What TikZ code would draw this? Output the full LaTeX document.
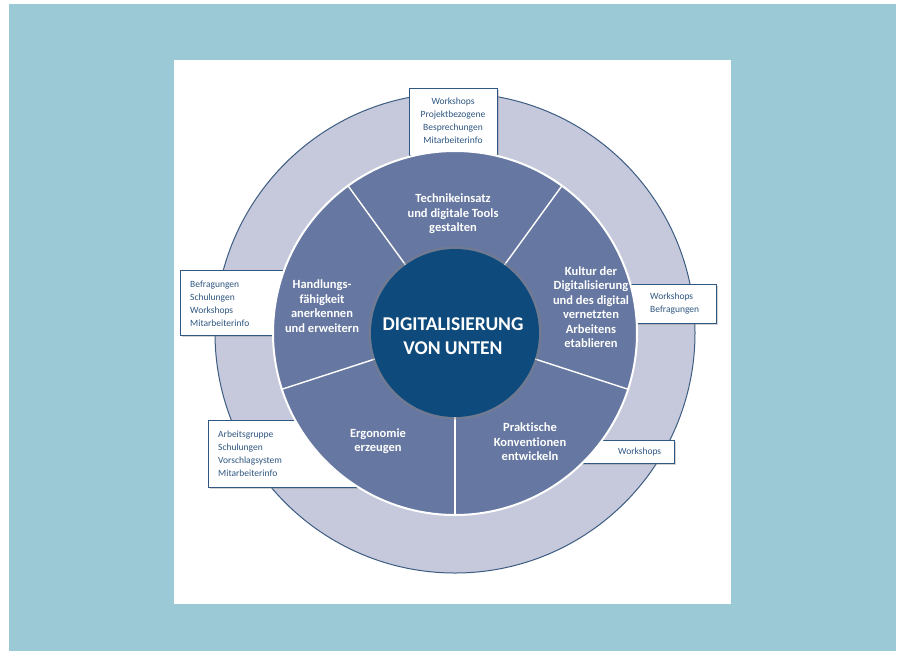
\documentclass[tikz,border=0pt]{standalone}
\usepackage{fontspec}
\setmainfont{Carlito}[Ligatures=NoCommon]
\usetikzlibrary{shadows}

\definecolor{bgblue}{HTML}{9BCAD6}
\definecolor{ringgray}{HTML}{C6C9DB}
\definecolor{ringline}{HTML}{3D5C82}
\definecolor{segblue}{HTML}{6678A1}
\definecolor{coreblue}{HTML}{0E4A7B}
\definecolor{cardblue}{HTML}{2F5782}

\tikzset{
	card/.style={draw=cardblue, line width=0.9pt, fill=white, inner sep=0pt,
		drop shadow={shadow xshift=1.5pt, shadow yshift=-1.5pt, opacity=0.35}},
	cardtext/.style={text=cardblue, font=\fontsize{9.5}{13}\selectfont, inner sep=0pt},
	seglabel/.style={text=white, font=\bfseries\fontsize{12.5}{14.5}\selectfont, align=center, inner sep=0pt},
	coretitle/.style={text=white, font=\bfseries\fontsize{19.5}{24}\selectfont, align=center, inner sep=0pt}
}

\begin{document}
\begin{tikzpicture}[x=1pt,y=-1pt]
		\def\rOuter{240pt}
		\def\rInner{182pt}
		\def\rCore{84pt}
		\useasboundingbox (0,0) rectangle (900,657);
		\coordinate (mid) at (455,333);
	% background
		\fill[bgblue] (9,4) rectangle (896,651);
		\fill[white] (174,60) rectangle (731,604);
	% outer ring
		\draw[ringline, fill=ringgray, line width=1pt] (mid) circle (\rOuter);
	% cards with the measures, partly hidden by the segments
		\node[card, minimum width=88, minimum height=67, anchor=north west] (cardT) at (409,88) {};
		\node[card, minimum width=120, minimum height=65, anchor=north west] (cardL) at (180,270) {};
		\node[card, minimum width=152, minimum height=67, anchor=north west] (cardBL) at (208,420) {};
		\node[card, minimum width=107, minimum height=39, anchor=north east] (cardR) at (717,284) {};
		\node[card, minimum width=115, minimum height=23, anchor=north east] (cardBR) at (675,440) {};
		\node[cardtext, align=center] (listT) at (453,121) {Workshops\\Projektbezogene\\Besprechungen\\Mitarbeiterinfo};
		\node[cardtext, align=left, anchor=west] (listL) at (190,304) {Befragungen\\Schulungen\\Workshops\\Mitarbeiterinfo};
		\node[cardtext, align=left, anchor=west] (listBL) at (218,454) {Arbeitsgruppe\\Schulungen\\Vorschlagsystem\\Mitarbeiterinfo};
		\node[cardtext, align=left, anchor=west] (listR) at (650,304) {Workshops\\Befragungen};
		\node[cardtext, anchor=west] (listBR) at (618,452) {Workshops};
	% segments
		\draw[white, line width=2pt, fill=segblue] (mid) circle (\rInner);
		\foreach \a in {54,126,198,270,342}
			\draw[white, line width=1.4pt] ([shift={(\a:\rCore)}]mid) -- ([shift={(\a:\rInner)}]mid);
	% core
		\fill[coreblue, drop shadow={shadow xshift=0pt, shadow yshift=0pt, shadow scale=1.03, opacity=0.4}] (mid) circle (\rCore);
	% labels
		\node[seglabel] (segT) at (453,214) {Technikeinsatz\\und digitale Tools\\gestalten};
		\node[seglabel] (segR) at (591,307) {Kultur der\\Digitalisierung\\und des digital\\vernetzten\\Arbeitens\\etablieren};
		\node[seglabel] (segBR) at (530,442) {Praktische\\Konventionen\\entwickeln};
		\node[seglabel] (segBL) at (378,441) {Ergonomie\\erzeugen};
		\node[seglabel] (segL) at (322,306) {Handlungs-\\fähigkeit\\anerkennen\\und erweitern};
		\node[coretitle] (core) at (453,336) {DIGITALISIERUNG\\VON UNTEN};
\end{tikzpicture}
\end{document}
